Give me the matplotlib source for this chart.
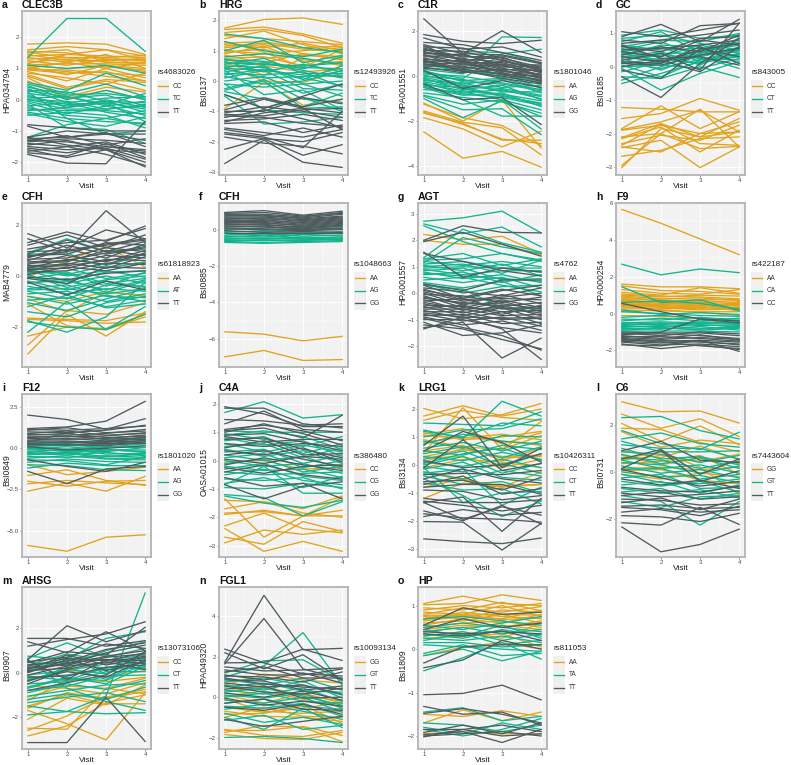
import matplotlib
matplotlib.use('Agg')
import matplotlib.pyplot as plt
from matplotlib.lines import Line2D
from matplotlib.patches import Rectangle

plt.rcParams['font.family'] = ['Liberation Sans', 'DejaVu Sans']

W, H = 791, 765
colors = ['#E2A31B', '#12B48F', '#4E5C5E']
visits = [1, 2, 3, 4]

# a
clec3b_1 = [[1.78,1.82,1.78,1.45],[1.6,1.7,1.6,1.4],[1.55,1.5,1.3,1.25],[1.5,1.6,1.2,1.2],[1.4,1.45,1.4,1.35],[1.3,1.35,1.2,1.15],[1.25,1.1,1.3,1.3],[1.2,1.3,1.1,1.0],[1.1,1.0,1.05,0.95],[1.05,0.8,1.1,0.9],[1.0,1.2,1.0,1.2],[0.95,0.85,0.9,0.6],[0.9,0.6,1.0,0.7],[0.8,0.4,0.65,0.55],[0.75,0.35,0.6,0.3],[0.7,0.1,0.4,0.25],[0.6,0.05,0.3,0.0],[1.15,1.45,1.6,1.25],[1.35,1.2,1.45,1.0],[1.0,0.9,0.75,0.6],[1.45,1.25,1.25,1.3],[0.85,0.7,0.5,0.85],[1.52,1.35,1.35,1.42],[1.12,1.15,1.15,1.1],[0.98,0.95,0.85,0.78]]
clec3b_2 = [[1.35,2.6,2.6,1.55],[1.1,1.0,1.1,0.85],[0.55,0.3,0.85,0.45],[0.5,0.2,0.5,0.1],[0.45,0.0,0.3,0.0],[0.35,-0.1,0.05,0.1],[0.3,0.25,-0.05,-0.1],[0.2,0.05,0.15,-0.2],[0.1,-0.15,-0.1,-0.3],[0.05,0.1,-0.2,-0.05],[0,-0.2,-0.05,-0.4],[-0.05,-0.3,-0.3,-0.2],[-0.1,-0.45,-0.2,-0.5],[-0.2,-0.1,-0.4,-0.6],[-0.25,-0.5,-0.6,-0.35],[-0.35,-0.25,-0.1,-0.7],[-0.45,-0.7,-0.85,-0.55],[-0.5,-0.4,-0.5,-0.9],[-0.15,-0.9,-0.95,-1.4],[-1.2,-0.8,-0.6,-0.8],[0.25,-0.6,-1.1,-1.0],[0.4,0.15,0.2,0.05],[0.0,-0.05,-0.3,-0.15],[-0.3,-0.35,-0.35,-0.45],[0.15,-0.25,0.0,-0.25],[-0.4,-0.6,-0.7,-0.75],[0.28,0.1,-0.15,0.2]]
clec3b_3 = [[-0.8,-0.9,-1.0,-1.0],[-0.85,-1.2,-1.1,-1.1],[-1.2,-1.0,-1.1,-1.3],[-1.25,-1.2,-1.05,-1.5],[-1.3,-1.35,-1.5,-1.6],[-1.35,-1.25,-1.3,-1.4],[-1.4,-1.5,-1.35,-1.75],[-1.45,-1.3,-1.6,-1.7],[-1.5,-1.6,-1.55,-1.9],[-1.55,-1.7,-1.5,-1.65],[-1.6,-1.85,-1.6,-2.0],[-1.65,-1.5,-1.75,-2.1],[-1.75,-2.03,-2.05,-0.7],[-1.2,-1.45,-1.6,-2.15],[-1.3,-1.15,-1.45,-1.25],[-1.7,-1.8,-1.4,-1.85]]
# b
hrg_1 = [[1.75,2.03,2.08,1.87],[1.7,1.78,1.55,1.25],[1.6,1.7,1.5,1.1],[1.5,1.4,1.3,1.2],[1.4,1.65,1.2,0.9],[1.25,1.3,1.1,1.15],[1.2,1.1,1.25,1.0],[1.1,1.2,0.9,0.7],[1.0,0.9,1.0,1.1],[0.95,1.05,0.7,0.6],[0.85,0.6,0.9,0.8],[0.75,0.8,0.5,0.65],[0.7,0.5,0.3,0.4],[0.6,0.2,0.75,0.5],[0.5,0.0,-0.05,0.35],[-0.9,-0.05,-0.8,-0.6],[1.3,0.95,0.45,1.05],[0.9,1.15,0.65,0.15],[1.15,1.25,1.05,0.95],[1.05,0.75,0.85,0.75]]
hrg_2 = [[1.55,1.4,1.1,0.95],[1.3,1.0,0.8,1.05],[1.0,1.35,0.6,0.85],[0.8,0.9,0.75,0.55],[0.7,0.65,0.4,0.8],[0.65,0.3,0.55,0.3],[0.55,0.75,0.25,0.25],[0.5,0.45,0.05,0.5],[0.45,0.6,0.35,0.1],[0.4,0.1,0.15,0.2],[0.3,0.5,-0.1,0.0],[0.25,0.2,0.3,-0.2],[0.15,-0.1,0.0,0.35],[0.1,0.35,-0.25,-0.3],[0.0,0.15,-0.4,-0.1],[-0.1,-0.2,-0.1,-0.5],[-0.25,0.05,-0.6,-0.7],[-0.35,-0.6,-0.85,-0.4],[-0.45,-0.9,-0.55,-1.0],[-0.5,-1.42,-1.35,-1.2],[-0.1,-0.95,-1.05,-1.1],[-0.3,0.0,-0.9,-0.85],[0.35,-0.45,-0.3,-0.95],[0.6,0.55,0.45,0.4],[0.42,0.35,0.2,0.15],[0.2,0.4,0.1,-0.15],[0.72,0.55,0.5,0.6]]
hrg_3 = [[-0.45,-0.9,-0.5,-0.1],[-0.8,-0.55,-0.85,-0.6],[-0.95,-0.6,-0.9,-1.05],[-1.0,-1.0,-0.55,-0.75],[-1.05,-0.85,-1.0,-1.2],[-1.1,-1.15,-0.95,-0.9],[-1.15,-1.2,-1.4,-1.5],[-1.2,-0.95,-1.25,-1.55],[-1.3,-1.25,-1.1,-1.3],[-1.35,-1.05,-0.9,-1.6],[-1.4,-1.35,-1.7,-1.45],[-1.55,-1.7,-1.85,-1.6],[-1.6,-1.8,-1.55,-1.85],[-1.7,-1.85,-2.2,-1.0],[-1.75,-1.9,-2.0,-1.7],[-2.25,-1.9,-2.45,-2.1],[-2.72,-1.95,-2.68,-2.85],[-1.85,-2.05,-2.15,-2.4]]
# c
c1r_1 = [[-1.2,-2.0,-1.05,-3.2],[-1.25,-1.85,-2.2,-3.1],[-1.55,-2.05,-2.3,-3.5],[-1.65,-2.1,-2.85,-2.85],[-1.85,-2.35,-3.15,-2.45],[-1.6,-2.15,-2.8,-3.0],[-2.48,-3.65,-3.35,-4.05]]
c1r_2 = [[0.3,0.1,1.75,1.72],[0.2,-0.1,1.0,1.2],[0.15,-0.2,-0.1,-0.5],[0.1,0.0,-0.3,-0.6],[0.05,-0.35,-0.15,-0.75],[0.0,-0.15,-0.5,-0.4],[-0.05,-0.4,-0.65,-0.9],[-0.1,-0.6,-0.4,-1.05],[-0.2,-0.3,-0.7,-0.7],[-0.25,-0.55,-0.9,-1.2],[-0.3,-0.75,-0.6,-1.0],[-0.4,-0.5,-0.85,-1.25],[-0.5,-0.85,-0.75,-1.35],[-0.6,-0.7,-1.05,-1.5],[-0.75,-0.95,-1.15,-1.65],[-0.85,-1.25,-1.05,-2.35],[-0.9,-1.5,-1.45,-2.6],[-1.0,-1.85,-1.1,-1.8],[-0.5,-1.05,-1.78,-1.78],[0.55,0.2,0.1,-0.3],[0.45,0.35,-0.05,-0.2],[0.65,0.25,0.15,-0.55],[1.15,1.1,1.05,0.6],[-0.15,-0.45,-0.55,-0.85],[0.25,-0.25,-0.35,-0.65],[-0.35,-0.65,-0.8,-1.1],[-0.45,-0.8,-0.95,-1.3]]
c1r_3 = [[2.55,1.0,2.02,1.05],[1.85,1.55,1.45,1.6],[1.7,1.2,1.3,0.85],[1.5,1.4,1.05,0.7],[1.4,1.0,0.95,0.6],[1.3,1.25,0.8,0.4],[1.25,0.85,0.9,0.55],[1.15,1.1,0.7,0.3],[1.1,0.7,0.85,0.25],[1.0,0.95,0.5,0.5],[0.95,0.6,0.6,0.15],[0.9,0.8,0.35,0.05],[0.8,0.5,0.45,0.2],[0.75,0.65,0.2,0.1],[0.7,0.35,0.55,-0.05],[0.6,0.55,0.25,-0.1],[0.55,0.3,0.1,0.0],[0.45,0.45,0.05,-0.15],[0.4,0.15,0.3,-0.25],[0.35,0.25,-0.1,-0.35],[0.25,-0.55,-0.2,-0.5],[-0.35,-1.05,-0.95,-2.15],[1.2,0.75,0.65,0.35],[0.85,1.0,0.4,0.45],[1.05,0.9,0.75,0.2],[0.65,0.7,0.3,0.25],[0.5,0.6,0.15,-0.2],[1.35,0.65,0.5,0.05],[0.95,0.4,0.25,-0.05],[0.72,0.2,0.0,-0.3]]
# d
gc_1 = [[-1.22,-1.27,-1.35,-1.35],[-1.55,-1.4,-0.95,-1.3],[-1.85,-1.17,-1.85,-1.35],[-1.88,-1.65,-1.3,-1.95],[-1.9,-1.75,-2.0,-1.65],[-2.1,-2.0,-1.27,-2.4],[-2.12,-1.7,-2.1,-1.55],[-2.15,-1.8,-2.55,-1.9],[-2.3,-2.05,-2.2,-1.75],[-2.35,-1.72,-2.3,-2.35],[-2.4,-2.55,-2.0,-1.95],[-2.42,-2.2,-3.02,-2.4],[-2.68,-2.5,-2.15,-2.1],[-2.95,-2.0,-2.45,-2.38],[-3.02,-1.85,-2.1,-1.95]]
gc_2 = [[0.95,1.1,0.85,0.95],[0.85,0.95,0.7,0.5],[0.75,1.05,0.4,0.85],[0.65,0.5,0.55,0.7],[0.55,0.3,0.65,0.4],[0.5,0.75,0.3,0.55],[0.45,0.6,0.15,0.3],[0.4,0.2,0.5,0.75],[0.3,0.45,0.05,0.6],[0.25,-0.1,0.35,0.45],[0.2,0.35,0.25,0.2],[0.15,0.1,0.45,0.65],[0.1,0.25,0.1,0.35],[0.05,-0.3,0.2,0.5],[0.0,0.05,-0.05,0.25],[-0.05,-0.7,-0.2,0.15],[-0.15,0.15,0.3,-0.05],[-0.3,-0.35,0.0,-0.32],[-0.4,0.0,0.4,0.7],[-0.5,-0.2,0.15,0.4],[0.35,0.65,0.6,0.1],[0.6,0.8,0.75,1.0],[0.28,0.4,0.42,0.5],[0.12,-0.05,0.22,0.38],[0.42,0.15,0.35,0.58]]
gc_3 = [[1.05,0.9,1.1,1.3],[0.9,1.27,0.75,1.42],[0.8,0.7,1.23,1.3],[0.7,0.8,0.95,1.1],[0.6,0.45,0.85,0.9],[0.5,0.55,0.65,0.8],[0.45,0.3,0.8,0.65],[0.35,0.6,0.45,0.95],[0.3,0.15,0.5,0.7],[0.2,0.4,-0.1,1.3],[0.1,0.05,0.35,0.55],[0.0,0.2,-0.15,0.6],[-0.1,-0.35,0.55,0.3],[-0.3,-0.92,0.1,0.85],[0.15,0.1,0.6,0.1],[0.65,0.25,0.3,0.05]]
# e
cfh1_1 = [[-0.8,-1.0,-0.6,-0.8],[-0.9,-1.4,-0.65,-0.75],[-1.65,-1.7,-1.75,-1.45],[-1.7,-1.75,-1.85,-1.8],[-2.35,-2.0,-2.05,-1.5],[-2.7,-1.35,-1.5,-1.05],[-3.05,-1.5,-2.35,-1.4],[-1.1,-1.95,-2.1,-1.6],[-0.05,0.6,1.15,0.35]]
cfh1_2 = [[0.9,1.45,0.95,1.05],[0.85,0.9,0.3,0.55],[0.35,0.05,0.4,0.85],[0.3,0.3,-0.1,0.1],[0.2,-0.2,0.15,0.2],[0.1,0.15,-0.3,-0.1],[0.0,-0.3,0.0,-0.3],[-0.1,0.1,-0.4,0.15],[-0.2,-0.55,-0.2,-0.45],[-0.3,-0.1,-0.65,-0.2],[-0.4,-0.7,-0.5,-0.6],[-0.5,-0.35,-0.8,-0.85],[-0.6,-0.9,-0.35,-0.4],[-0.7,-0.6,-1.0,-0.7],[-0.8,-1.1,-0.75,-1.0],[-0.95,-0.85,-1.2,-0.95],[-1.05,-1.35,-0.9,-0.5],[-1.2,-0.75,-1.25,-1.1],[-1.4,-1.6,-1.05,-0.8],[-1.8,-2.0,-2.1,-1.2],[-2.2,-1.0,-2.1,-1.5],[-1.75,-2.2,-1.6,-0.25],[0.05,-0.45,-0.15,0.0],[-0.25,-0.2,-0.55,-0.15],[-0.55,-0.5,-0.7,-0.5],[0.25,0.0,0.2,-0.05]]
cfh1_3 = [[1.65,1.1,1.8,1.45],[1.45,0.95,2.55,1.3],[1.3,1.72,1.35,1.95],[1.2,1.6,1.1,1.6],[1.05,1.3,1.4,1.85],[0.95,1.0,1.25,1.45],[0.85,1.4,0.95,1.35],[0.8,0.85,1.3,1.2],[0.7,1.2,0.85,1.1],[0.65,0.7,1.1,0.95],[0.6,1.05,0.7,1.25],[0.5,0.55,1.0,0.8],[0.45,0.8,0.55,1.0],[0.4,0.45,0.8,0.7],[0.3,0.65,0.45,0.9],[0.25,0.3,0.65,0.6],[0.2,0.5,0.3,0.75],[0.15,0.2,0.5,0.45],[0.05,0.35,0.2,0.5],[-0.1,-0.3,0.35,0.3],[-0.25,-0.75,-0.2,-0.55],[-0.05,-0.15,0.1,0.2],[0.75,0.95,1.2,1.4],[0.55,0.6,0.9,1.15],[0.35,0.4,0.6,0.85]]
# f
cfh2_1 = [[-5.62,-5.75,-6.12,-5.87],[-7.0,-6.65,-7.2,-7.15]]
cfh2_2 = [[0.0,0.1,0.15,0.15],[-0.1,-0.1,0.0,0.05],[-0.15,-0.05,-0.2,-0.1],[-0.2,-0.3,-0.15,-0.2],[-0.3,-0.2,-0.35,-0.3],[-0.35,-0.4,-0.25,-0.35],[-0.4,-0.3,-0.45,-0.4],[-0.45,-0.5,-0.4,-0.5],[-0.5,-0.45,-0.5,-0.45],[-0.55,-0.6,-0.55,-0.55],[-0.6,-0.55,-0.6,-0.5],[-0.65,-0.7,-0.65,-0.6],[-0.7,-0.75,-0.7,-0.65]]
cfh2_3 = [[0.95,1.05,0.8,1.02],[0.9,0.95,0.75,0.9],[0.85,0.85,0.7,0.95],[0.8,0.75,0.65,0.85],[0.75,0.8,0.6,0.75],[0.7,0.7,0.55,0.7],[0.65,0.6,0.5,0.65],[0.6,0.65,0.45,0.6],[0.55,0.5,0.4,0.55],[0.5,0.55,0.35,0.5],[0.45,0.45,0.3,0.45],[0.4,0.35,0.25,0.4],[0.35,0.4,0.2,0.35],[0.3,0.25,0.15,0.3],[0.25,0.3,0.1,0.25],[0.2,0.15,0.05,0.2],[0.15,0.2,0.0,0.1],[0.1,0.05,0.0,0.05],[0.05,0.0,-0.05,0.0],[-0.05,-0.15,-0.1,-0.15],[-0.2,-0.2,-0.2,-0.2]]
# g
agt_1 = [[2.22,2.02,2.15,1.5],[2.0,1.85,1.85,1.45]]
agt_2 = [[2.72,2.85,3.1,2.28],[2.62,2.25,2.5,1.75],[2.55,1.95,1.5,1.25],[1.35,2.42,1.9,1.55],[1.3,1.5,1.05,1.3],[1.25,1.3,1.5,1.2],[1.2,1.05,1.2,1.0],[1.1,1.2,0.95,0.8],[1.05,0.85,1.1,0.65],[1.0,1.1,0.75,1.25],[0.9,0.7,0.85,0.85],[0.85,0.95,0.5,0.55],[0.8,0.55,0.7,0.4],[0.7,0.8,0.4,0.7],[0.6,0.4,0.6,0.2],[0.5,0.6,0.3,0.05],[0.4,0.2,0.45,-0.1],[0.35,0.0,0.25,0.3],[0.3,0.15,-0.55,-0.6],[1.15,2.1,1.75,1.5],[0.95,1.0,0.95,0.95],[0.75,0.65,0.55,0.45]]
agt_3 = [[2.0,2.55,2.3,2.28],[1.95,2.3,1.85,1.4],[1.55,0.6,0.95,0.8],[1.5,1.2,0.85,0.65],[0.35,0.1,0.5,0.5],[0.3,-0.2,0.1,0.3],[0.2,0.05,-0.1,0.2],[0.1,-0.15,0.15,-0.1],[0.05,-0.3,-0.2,-0.25],[0.0,-0.45,-0.05,-0.4],[-0.05,-0.1,-0.35,-0.15],[-0.1,-0.55,-0.25,-0.55],[-0.2,-0.35,-0.5,-0.35],[-0.25,-0.65,-0.3,-0.7],[-0.3,-0.2,-0.6,-0.5],[-0.4,-0.75,-0.45,-0.85],[-0.45,-0.5,-0.7,-0.65],[-0.5,-0.85,-0.55,-1.0],[-0.6,-0.6,-0.85,-0.8],[-0.65,-0.95,-0.7,-1.15],[-0.7,-0.7,-1.0,-0.95],[-0.8,-1.05,-0.9,-1.25],[-0.85,-0.8,-1.15,-1.1],[-0.9,-1.2,-1.05,-1.4],[-1.0,-1.0,-1.3,-1.5],[-1.1,-1.6,-1.5,-1.2],[-1.2,-1.35,-1.75,-2.1],[-1.3,-1.1,-2.45,-1.7],[-1.35,-0.9,-1.35,-2.5],[-0.95,-1.3,-1.6,-2.15],[-0.15,-0.4,-0.4,-0.6],[-0.35,-0.6,-0.55,-0.75],[-0.55,-0.45,-0.8,-0.45],[-0.75,-0.9,-0.95,-0.9],[0.15,-0.25,-0.15,0.0]]
# h
f9_1 = [[5.65,4.9,4.05,3.2],[1.6,1.45,1.45,1.35],[1.5,1.25,1.2,1.05],[1.3,1.1,1.05,1.3],[1.15,1.0,1.4,1.1],[1.05,0.95,0.9,0.8],[0.95,0.8,0.85,0.7],[0.9,0.7,0.75,0.75],[0.8,0.75,0.6,0.55],[0.75,0.6,0.7,0.6],[0.7,0.55,0.5,0.5],[0.6,0.5,0.55,0.4],[0.55,0.4,0.45,0.45],[0.5,0.45,0.35,0.3],[0.45,0.35,0.3,0.35],[0.35,0.25,0.35,0.2],[0.3,0.3,0.2,0.25],[0.2,0.15,0.1,0.1],[0.1,0.2,0.05,-0.1],[-0.1,-0.15,-0.25,-0.65],[0.4,0.5,0.65,0.25],[0.65,0.65,0.4,0.15],[0.85,0.35,0.25,0.65],[1.0,0.9,1.0,0.95]]
f9_2 = [[2.68,2.1,2.42,2.22],[1.45,0.6,0.75,0.15],[0.6,0.7,0.55,0.25],[0.2,-0.05,0.05,-0.05],[0.1,0.0,-0.1,-0.15],[-0.2,-0.1,-0.25,-0.3],[-0.3,-0.35,-0.2,-0.4],[-0.4,-0.25,-0.4,-0.25],[-0.5,-0.45,-0.5,-0.55],[-0.55,-0.6,-0.45,-0.5],[-0.6,-0.5,-0.65,-0.6],[-0.7,-0.7,-0.6,-0.7],[-0.75,-0.65,-0.8,-0.75],[-0.8,-0.85,-0.7,-0.9],[-0.9,-0.8,-0.85,-0.65],[-0.95,-0.95,-0.95,-1.0],[-0.65,-0.55,-0.55,-0.45],[-0.85,-0.75,-0.9,-0.8]]
f9_3 = [[0.55,0.1,-0.3,-0.5],[-1.0,-1.05,-1.05,-1.2],[-1.05,-1.2,-1.0,-1.1],[-1.1,-1.1,-1.2,-1.35],[-1.2,-1.35,-1.15,-1.45],[-1.25,-1.25,-1.35,-1.5],[-1.3,-1.4,-1.3,-1.4],[-1.35,-1.5,-1.45,-1.55],[-1.45,-1.45,-1.55,-1.65],[-1.5,-1.6,-1.5,-1.7],[-1.55,-1.7,-1.65,-1.8],[-1.65,-1.9,-1.7,-1.95],[-1.7,-1.75,-1.45,-2.05],[-1.15,-1.0,-0.3,-0.4],[-1.4,-1.55,-1.75,-1.9]]
# i
f12_1 = [[-1.0,-1.6,-1.4,-1.15],[-1.65,-1.3,-1.95,-2.25],[-2.0,-2.3,-2.0,-1.95],[-2.15,-1.95,-2.1,-2.2],[-2.6,-2.1,-2.6,-1.7],[-5.9,-6.25,-5.4,-5.25]]
f12_2 = [[0.35,0.95,0.5,0.6],[0.3,0.3,0.4,0.35],[0.2,0.15,0.25,0.2],[0.1,0.2,0.05,0.3],[0.05,-0.05,0.1,0.05],[-0.05,0.1,-0.1,-0.1],[-0.1,-0.15,-0.2,0.05],[-0.2,-0.3,-0.1,-0.2],[-0.25,-0.05,-0.35,-0.3],[-0.3,-0.4,-0.25,-0.45],[-0.4,-0.25,-0.5,-0.35],[-0.5,-0.55,-0.45,-0.55],[-0.6,-0.45,-0.65,-0.7],[-0.7,-0.75,-1.0,-0.5],[-0.85,-0.65,-0.8,-0.85],[-1.0,-1.05,-1.3,-1.35],[-1.2,-0.9,-1.05,-1.05],[0.0,-0.2,-0.05,-0.25],[-0.35,-0.3,-0.6,-0.6]]
f12_3 = [[2.02,1.75,1.15,1.8],[1.2,1.3,1.65,2.85],[1.15,1.1,1.2,1.35],[1.1,1.25,0.95,1.05],[1.0,0.95,1.1,1.4],[0.9,1.05,0.8,0.9],[0.85,0.8,0.9,1.15],[0.8,0.9,0.65,0.75],[0.7,0.7,0.75,0.95],[0.65,0.75,0.55,0.65],[0.6,0.55,0.6,0.8],[0.5,0.6,0.45,0.55],[0.45,0.45,0.35,0.7],[0.4,0.35,0.4,0.45],[0.3,0.4,0.25,0.5],[0.25,0.2,0.3,0.3],[0.2,0.25,0.15,0.4],[0.1,-0.1,0.0,0.15],[-0.7,-1.1,-1.4,-0.85],[-1.4,-2.15,-1.25,-1.1]]
# j
c4a_1 = [[-1.35,-2.7,-1.95,-1.3],[-1.4,-1.45,-1.7,-1.25],[-1.7,-1.45,-1.85,-2.0],[-1.85,-1.8,-1.95,-1.95],[-1.9,-1.75,-1.95,-1.75],[-2.3,-1.85,-2.4,-2.55],[-2.4,-3.2,-2.85,-3.2],[-2.7,-2.95,-2.15,-2.5],[-2.9,-2.45,-2.6,-2.45],[-0.05,0.0,-0.3,-0.25]]
c4a_2 = [[1.7,2.08,1.5,1.62],[1.05,1.0,1.0,1.0],[0.95,0.75,0.5,0.85],[0.9,1.05,0.85,0.4],[0.8,0.55,0.7,0.15],[0.7,0.85,0.25,0.6],[0.6,0.3,0.55,0.3],[0.5,0.6,0.1,0.45],[0.4,0.15,0.35,-0.1],[0.3,0.4,-0.1,0.2],[0.2,0.0,0.15,-0.3],[0.1,0.25,-0.25,0.0],[0.0,-0.2,-0.1,-0.45],[-0.1,0.05,-0.4,-0.2],[-0.2,-0.35,-0.3,-0.6],[-0.3,-0.1,-0.55,-0.7],[-0.4,-0.5,-0.45,-0.4],[-0.5,-0.3,-0.7,-0.85],[-0.65,-0.7,-0.6,-1.0],[-0.8,-0.6,-0.95,-0.55],[-0.95,-1.0,-0.8,-0.95],[-1.2,-1.3,-1.95,-1.45],[-1.25,-1.5,-1.65,-1.4],[-0.85,-0.2,-1.15,-1.15]]
c4a_3 = [[1.9,1.65,1.2,1.2],[1.85,1.85,1.3,1.15],[1.45,1.4,1.25,1.3],[1.3,1.75,1.1,1.0],[1.1,1.25,1.05,0.7],[1.05,1.15,0.8,1.6],[1.0,1.3,0.95,0.55],[0.9,0.95,0.65,0.35],[0.85,0.65,0.75,0.75],[0.75,0.8,0.4,0.1],[0.6,0.5,0.6,0.5],[0.45,0.7,0.2,0.25],[0.35,0.2,0.45,-0.05],[0.2,0.35,0.05,-0.2],[0.05,-0.1,0.15,0.05],[-0.15,0.1,-0.15,-0.35],[-0.25,-0.45,-0.2,-0.15],[-0.4,-0.15,-0.5,-0.65],[-0.85,-1.35,-0.9,-0.75],[-0.6,-0.9,-0.8,-1.35]]
# k
lrg1_1 = [[2.02,1.65,1.8,2.2],[1.75,2.12,1.75,2.0],[1.6,1.95,1.7,1.6],[1.15,0.9,1.0,1.2],[1.1,1.3,0.75,1.15],[1.05,0.95,1.1,0.9],[0.9,0.65,0.55,1.55],[0.8,1.0,0.85,0.7],[0.45,2.05,0.55,1.05],[0.3,0.55,0.3,0.35],[0.25,0.3,-0.1,0.2],[0.1,0.6,0.25,0.3],[-0.1,0.2,0.1,-0.1],[-0.25,-0.55,-0.75,-0.7],[-0.8,-0.5,-0.8,-0.25],[-1.2,-0.65,-0.8,-0.7],[0.5,0.7,0.15,0.6]]
lrg1_2 = [[1.5,1.45,1.4,1.9],[1.25,0.95,2.28,1.75],[1.2,1.0,1.5,1.4],[1.0,1.25,1.3,1.65],[0.85,0.6,1.05,1.0],[0.75,1.1,0.85,0.75],[0.6,0.8,0.5,0.85],[0.5,0.35,0.7,0.55],[0.4,0.65,0.25,0.65],[0.3,0.15,0.45,0.2],[0.2,0.5,-0.05,0.4],[0.1,-0.05,0.2,-0.1],[0.0,0.3,-0.3,0.05],[-0.05,-0.25,0.05,-0.3],[-0.15,0.1,-0.45,-0.55],[-0.25,-0.5,-0.2,-0.4],[-0.3,-0.15,-1.45,-0.8],[-0.4,-0.7,-0.6,-1.0],[-0.5,-1.1,-1.85,-1.3],[-0.65,-0.9,-0.85,-1.4],[-0.1,-1.35,-1.0,-0.95],[0.05,0.4,0.6,0.15]]
lrg1_3 = [[0.7,1.75,-0.1,0.6],[0.5,1.2,0.8,0.1],[0.15,-0.1,0.0,0.4],[-0.1,0.9,-0.2,0.05],[-0.35,-0.3,-0.35,-0.2],[-0.5,-0.15,-0.5,-0.65],[-0.6,-0.55,-0.9,-0.45],[-0.7,-0.4,-1.05,-0.85],[-0.8,-0.7,-0.7,-1.05],[-0.9,-0.95,-1.25,-1.1],[-1.2,-1.35,-1.35,-1.25],[-1.3,-1.45,-1.65,-1.45],[-1.35,-1.15,-2.38,-1.2],[-1.35,-1.95,-1.5,-1.8],[-1.75,-1.9,-1.95,-2.05],[-1.85,-1.6,-1.8,-1.7],[-2.03,-2.05,-3.05,-2.1],[-2.65,-2.75,-2.82,-2.62],[-1.65,-2.0,-1.45,-2.12]]
# l
c6_1 = [[2.97,2.55,2.58,2.07],[2.45,1.85,2.25,1.5],[2.05,1.3,1.95,1.15],[1.85,1.8,1.25,0.85],[1.7,1.05,1.35,1.2],[0.9,0.6,1.1,0.5],[0.7,0.3,0.6,0.35],[0.5,0.7,0.45,0.75],[0.35,0.45,0.7,-0.1],[0.15,0.2,0.1,0.2],[-0.1,-0.3,-0.05,-0.2],[0.05,0.1,-0.35,-0.5],[0.55,0.85,0.2,-0.95]]
c6_2 = [[2.3,2.35,1.75,1.4],[1.75,1.2,0.95,1.68],[1.4,1.65,1.2,1.05],[1.3,0.85,0.85,0.9],[1.15,1.0,1.0,0.55],[1.0,0.55,0.65,0.3],[0.85,0.75,0.4,0.7],[0.75,0.35,0.6,0.15],[0.6,0.5,0.15,0.45],[0.5,0.15,0.3,-0.05],[0.4,0.3,-0.05,0.25],[0.25,-0.05,0.1,-0.25],[0.1,0.15,-0.3,-0.1],[0.0,-0.2,-0.15,-0.45],[-0.1,-0.45,-0.5,-0.3],[-0.25,-0.1,-0.7,-0.65],[-0.4,-0.6,-0.4,-0.85],[-0.55,-0.4,-0.9,-0.55],[-0.7,-0.9,-0.75,-1.1],[-0.85,-0.7,-1.15,-0.9],[-1.0,-1.25,-2.25,-1.25],[-1.25,-1.5,-1.05,-1.0]]
c6_3 = [[0.9,1.3,0.5,0.4],[0.55,0.95,-0.1,0.55],[0.15,0.9,-0.4,0.05],[0.1,-0.25,-0.6,-0.4],[-0.3,-0.55,-0.35,-0.7],[-0.65,-0.8,-0.85,-0.6],[-0.9,-1.05,-0.95,-0.8],[-1.0,-0.85,-1.15,-1.05],[-1.15,-1.2,-1.4,-1.35],[-1.3,-1.1,-1.6,-1.15],[-1.45,-1.4,-1.55,-1.5],[-1.5,-1.6,-1.85,-1.45],[-1.7,-1.55,-1.7,-1.6],[-1.85,-1.9,-2.1,-1.75],[-2.15,-2.25,-1.5,-2.22],[-2.33,-3.38,-3.07,-2.42]]
# m
ahsg_1 = [[-0.3,0.1,-0.2,0.1],[-0.6,-0.7,-0.95,-0.45],[-1.1,-0.6,-0.7,-0.25],[-1.5,-1.0,-1.4,-1.4],[-1.6,-0.9,-1.15,-0.85],[-1.7,-2.3,-3.03,-0.9],[-2.1,-1.15,-1.45,-0.55],[-2.5,-2.55,-0.7,-0.95],[-2.6,-1.95,-1.1,-0.75],[-2.85,-2.4,-1.35,-1.0],[-1.25,-0.3,-0.4,-0.2]]
ahsg_2 = [[0.75,0.6,1.55,1.85],[0.65,1.35,0.7,1.1],[0.5,0.3,1.0,1.4],[0.35,0.85,0.55,0.8],[0.2,0.45,0.2,0.65],[0.05,0.7,-0.05,0.95],[-0.1,0.1,0.4,0.45],[-0.25,-0.1,0.15,0.25],[-0.4,0.25,-0.3,0.55],[-0.5,-0.4,0.05,0.05],[-0.65,-0.2,-0.5,0.3],[-0.8,-0.6,-0.15,-0.1],[-0.9,-0.5,-0.75,-0.35],[-1.05,-0.8,-0.55,-0.5],[-1.2,-0.95,-1.2,-0.65],[-1.35,-1.1,-0.9,-1.3],[-1.5,-1.75,-1.05,3.6],[-1.9,-1.75,-1.85,-1.8],[0.6,-0.7,-1.3,-1.7],[0.1,0.55,0.85,0.2],[-0.15,-0.35,0.25,0.15],[-0.7,-0.25,-0.35,0.4],[-0.35,0.15,-0.05,0.7]]
ahsg_3 = [[1.55,1.55,1.2,1.45],[1.4,0.9,1.85,1.0],[1.2,1.5,1.75,2.3],[0.6,2.12,1.4,1.9],[0.5,0.7,1.3,1.1],[0.45,0.95,0.8,2.05],[0.35,0.5,1.05,1.35],[0.3,0.65,0.55,0.9],[0.2,0.4,0.9,1.25],[0.15,0.8,0.35,0.7],[0.1,0.2,0.7,0.85],[0.0,0.6,0.1,0.5],[-0.1,0.3,0.45,0.75],[-0.2,-0.15,0.25,0.35],[-0.35,0.05,-0.2,0.6],[-0.5,0.15,0.5,0.15],[-0.8,-0.45,-0.1,0.95],[-3.15,-3.15,-1.1,-3.1],[0.55,-0.3,0.6,0.4],[0.25,0.35,0.75,1.0],[0.05,0.45,0.6,0.55]]
# n
fgl1_1 = [[0.6,1.15,0.85,0.7],[0.3,0.5,0.1,-0.2],[0.1,-0.3,0.2,-0.3],[0.05,0.3,-0.1,-0.5],[-0.1,-0.7,-0.8,-0.7],[-0.5,-0.75,-0.55,-0.25],[-0.7,-0.95,-1.0,-1.2],[-0.85,-0.8,-0.4,-1.3],[-1.0,-0.5,-0.95,-1.0],[-1.6,-1.9,-1.95,-1.65],[-1.65,-1.65,-1.45,-1.9],[-1.85,-2.05,-2.1,-1.75],[-1.75,-1.4,-1.5,-2.2]]
fgl1_2 = [[1.2,1.8,1.85,0.8],[1.0,1.55,3.2,0.6],[0.9,0.6,0.95,0.35],[0.75,0.95,0.6,0.1],[0.6,0.35,0.8,-0.05],[0.5,0.7,0.3,0.25],[0.35,0.15,0.45,-0.2],[0.25,0.45,0.05,-0.4],[0.1,-0.05,0.2,-0.55],[0.0,0.2,-0.2,-0.3],[-0.15,-0.3,0.0,-0.75],[-0.3,-0.1,-0.45,-0.6],[-0.45,-0.55,-0.3,-0.95],[-0.6,-0.35,-0.7,-1.1],[-0.8,-1.25,-1.0,-1.35],[-1.0,-1.6,-0.55,-1.5],[-1.15,-0.9,-1.6,-1.4],[-2.0,-1.95,-2.05,-2.25]]
fgl1_3 = [[2.38,1.7,1.15,1.05],[2.2,1.4,2.1,0.85],[1.75,5.05,2.35,2.42],[1.7,1.72,2.38,1.82],[1.65,3.9,1.4,0.9],[1.5,1.3,1.35,1.45],[1.35,1.1,1.1,1.4],[1.25,1.5,0.95,0.95],[1.1,0.85,1.2,0.7],[1.05,1.0,0.75,1.25],[0.95,0.65,0.5,0.4],[0.85,0.8,0.35,0.55],[0.7,0.5,0.6,0.15],[0.55,0.25,0.15,0.45],[0.4,0.55,-0.05,0.0],[0.2,0.0,0.3,-0.15],[-0.05,-0.4,-0.2,-0.45],[-0.3,-0.1,-0.6,-0.65],[-0.5,-0.65,-0.35,-0.85],[-1.1,-1.45,-1.2,-0.95]]
# o
hp_1 = [[1.05,1.22,1.05,1.0],[1.02,1.05,1.25,1.12],[0.95,0.9,1.08,0.88],[0.9,1.0,0.95,1.05],[0.85,0.8,1.0,0.75],[0.8,0.95,0.85,0.98],[0.75,0.7,0.9,0.85],[0.7,0.85,0.75,0.7],[0.65,0.75,0.7,0.9],[0.6,0.65,0.8,0.6],[0.55,0.7,0.6,0.8],[0.5,0.6,0.65,0.5],[0.45,0.55,0.5,0.65],[0.4,0.5,0.55,0.45],[0.25,0.3,0.35,0.05],[-0.15,0.05,0.15,0.0],[-1.5,-1.55,-1.42,-1.55],[-1.7,-1.4,-1.65,-1.45],[-1.95,-1.9,-1.95,-1.95],[0.3,0.4,0.25,0.6],[0.78,0.78,0.8,0.78],[0.68,0.8,0.68,0.72]]
hp_2 = [[0.7,0.75,0.65,0.55],[0.55,0.45,0.6,0.75],[0.5,0.6,0.5,0.4],[0.45,0.3,0.55,0.25],[0.4,0.5,0.35,0.45],[0.35,0.25,0.45,0.3],[0.3,0.4,0.2,0.35],[0.25,0.2,0.3,0.15],[0.2,0.35,0.1,0.2],[0.15,0.15,0.05,0.1],[0.1,0.05,0.0,-0.05],[-0.1,0.1,-0.15,-0.1],[-0.15,0.0,-0.27,-0.05],[-0.5,-0.2,0.15,-0.23],[-1.45,-1.35,-1.65,-1.55],[-1.7,-1.75,-1.9,-1.75],[-1.8,-1.95,-1.7,-1.85],[-1.85,-2.0,-1.85,-1.6]]
hp_3 = [[0.55,0.95,0.8,0.85],[0.45,0.7,0.5,0.6],[0.4,0.35,0.4,0.35],[0.35,0.3,0.42,0.2],[-0.32,0.05,0.1,0.1],[-0.43,-0.25,0.2,0.0],[-1.05,-1.02,-0.83,-1.17],[-1.32,-1.5,-1.45,-1.75],[-1.48,-1.37,-1.5,-1.7],[-1.85,-1.85,-1.75,-1.9],[-1.92,-1.75,-1.95,-1.7],[-1.97,-1.9,-2.15,-1.85],[-2.0,-1.95,-1.9,-2.0],[-2.02,-1.85,-2.0,-1.95]]

genes = ['CLEC3B', 'HRG', 'C1R', 'GC', 'CFH', 'CFH', 'AGT', 'F9', 'F12', 'C4A', 'LRG1', 'C6', 'AHSG', 'FGL1', 'HP']
letters = list('abcdefghijklmno')
ylabels = ['HPA034794', 'BsI0137', 'HPA001551', 'BsI0185', 'MAB4779', 'BsI0885', 'HPA001557', 'HPA000254',
           'BsI0849', 'OASA01015', 'BsI3134', 'BsI0731', 'BsI0907', 'HPA049320', 'BsI1809']
snps = ['rs4683026', 'rs12493926', 'rs1801046', 'rs843005', 'rs61818923', 'rs1048663', 'rs4762', 'rs422187',
        'rs1801020', 'rs386480', 'rs10426311', 'rs7443604', 'rs13073106', 'rs10093134', 'rs811053']
genotypes = [['CC', 'TC', 'TT'], ['CC', 'TC', 'TT'], ['AA', 'AG', 'GG'], ['CC', 'CT', 'TT'], ['AA', 'AT', 'TT'],
             ['AA', 'AG', 'GG'], ['AA', 'AG', 'GG'], ['AA', 'CA', 'CC'], ['AA', 'AG', 'GG'], ['CC', 'CG', 'GG'],
             ['CC', 'CT', 'TT'], ['GG', 'GT', 'TT'], ['CC', 'CT', 'TT'], ['GG', 'GT', 'TT'], ['AA', 'TA', 'TT']]
series = [(clec3b_1, clec3b_2, clec3b_3), (hrg_1, hrg_2, hrg_3), (c1r_1, c1r_2, c1r_3), (gc_1, gc_2, gc_3),
          (cfh1_1, cfh1_2, cfh1_3), (cfh2_1, cfh2_2, cfh2_3), (agt_1, agt_2, agt_3), (f9_1, f9_2, f9_3),
          (f12_1, f12_2, f12_3), (c4a_1, c4a_2, c4a_3), (lrg1_1, lrg1_2, lrg1_3), (c6_1, c6_2, c6_3),
          (ahsg_1, ahsg_2, ahsg_3), (fgl1_1, fgl1_2, fgl1_3), (hp_1, hp_2, hp_3)]
yticks = [[-2, -1, 0, 1, 2], [-3, -2, -1, 0, 1, 2], [-4, -2, 0, 2], [-3, -2, -1, 0, 1], [-2, 0, 2], [-6, -4, -2, 0],
          [-2, -1, 0, 1, 2, 3], [-2, 0, 2, 4, 6], [-5.0, -2.5, 0.0, 2.5], [-3, -2, -1, 0, 1, 2], [-3, -2, -1, 0, 1, 2],
          [-2, 0, 2], [-2, 0, 2], [-2, 0, 2, 4], [-2, -1, 0, 1]]
ylims = [(-2.41, 2.84), (-3.1, 2.31), (-4.4, 2.9), (-3.24, 1.67), (-3.56, 2.85), (-7.56, 1.47), (-2.79, 3.41),
         (-2.9, 6.0), (-6.6, 3.3), (-3.4, 2.35), (-3.3, 2.54), (-3.6, 3.3), (-3.44, 3.87), (-2.57, 5.46), (-2.3, 1.43)]

col_left = [22, 219, 418, 616]
row_top = [11, 203, 394, 587]
row_h = [164, 164, 163, 162]
panel_w = 129


def fx(px):
    return px / W


def fy(px):
    return 1 - px / H


fig = plt.figure(figsize=(W / 100, H / 100), dpi=100)

for i in range(15):
    left = col_left[i % 4]
    top = row_top[i // 4]
    panel_h = row_h[i // 4]
    ax = fig.add_axes([fx(left), fy(top + panel_h), panel_w / W, panel_h / H])
    ax.set_facecolor('#F2F2F2')
    for g in range(3):
        for row in series[i][g]:
            ax.plot(visits, row, color=colors[g], lw=0.95, solid_joinstyle='miter')
    ax.set_xlim(0.85, 4.15)
    ax.set_ylim(*ylims[i])
    ax.set_xticks(visits)
    ax.set_xticks([1.5, 2.5, 3.5], minor=True)
    ax.set_yticks(yticks[i])
    step = yticks[i][1] - yticks[i][0]
    ax.set_yticks([t + step / 2 for t in yticks[i][:-1]], minor=True)
    if i == 8:
        ax.set_yticklabels(['\u22125.0', '\u22122.5', '0.0', '2.5'])
    ax.grid(True, which='major', color='white', lw=0.7)
    ax.grid(True, which='minor', color='white', lw=0.35)
    ax.set_axisbelow(True)
    ax.tick_params(which='major', length=1.6, width=0.5, color='#555555', labelsize=4.4, labelcolor='#4D4D4D', pad=0.8)
    ax.tick_params(which='minor', length=0)
    for s in ax.spines.values():
        s.set_color('#B3B3B3')
        s.set_linewidth(1.3)
    ax.set_xlabel('Visit', fontsize=6.0, color='#222222')
    ax.xaxis.set_label_coords(0.5, -7.5 / panel_h)
    ax.set_ylabel(ylabels[i], fontsize=6.2, color='#222222')
    # i sits higher in the reference, clear of the -2.5 tick
    ax.yaxis.set_label_coords(-10.5 / panel_w, 0.535 if i == 8 else 0.52)

    fig.text(fx(left), fy(top - 3), genes[i], fontsize=7.6, fontweight='bold', color='#111111', ha='left', va='baseline')
    fig.text(fx(left - 20), fy(top - 3), letters[i], fontsize=7.6, fontweight='bold', color='#111111', ha='left', va='baseline')

    # legend drawn by hand, the ggplot keys are grey squares
    lx = left + panel_w + 6
    fig.text(fx(lx), fy(top + 62), snps[i], fontsize=5.9, color='#222222', ha='left', va='center')
    for k in range(3):
        ky = top + 69 + k * 12.6
        fig.add_artist(Rectangle((fx(lx), fy(ky + 12.6)), 11.5 / W, 12.6 / H, transform=fig.transFigure,
                                 facecolor='#F0F0F0', edgecolor='none'))
        fig.add_artist(Line2D([fx(lx + 0.6), fx(lx + 10.9)], [fy(ky + 6.3)] * 2, transform=fig.transFigure,
                              color=colors[k], lw=0.95))
        fig.text(fx(lx + 16), fy(ky + 6.3), genotypes[i][k], fontsize=4.7, color='#333333', ha='left', va='center')

fig.savefig('out.png', dpi=100)
